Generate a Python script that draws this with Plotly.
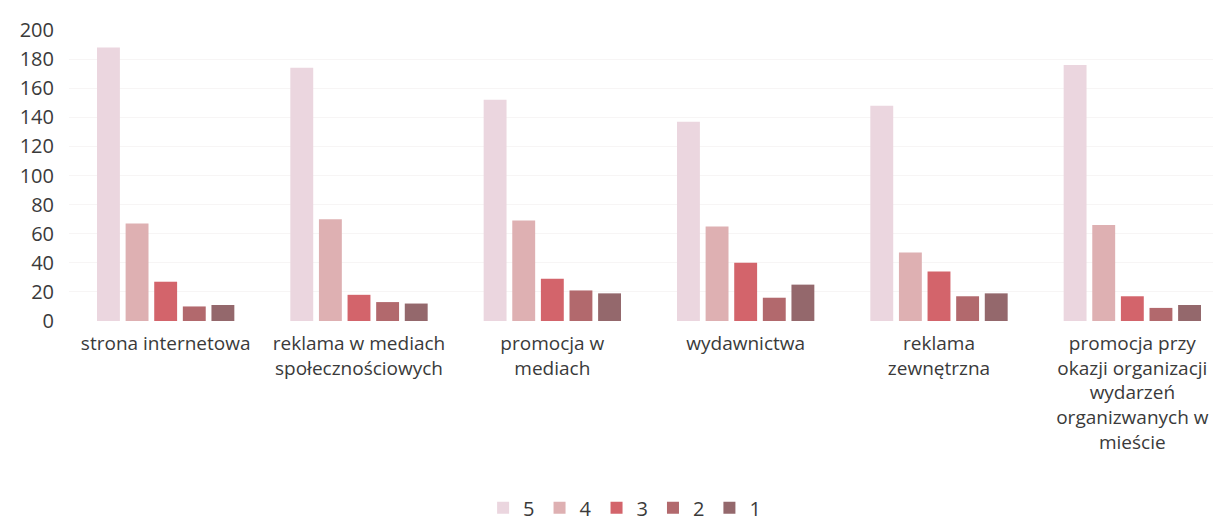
import plotly.graph_objects as go

categories = [
    "strona internetowa",
    "reklama w mediach<br>społecznościowych",
    "promocja w<br>mediach",
    "wydawnictwa",
    "reklama<br>zewnętrzna",
    "promocja przy<br>okazji organizacji<br>wydarzeń<br>organizwanych w<br>mieście",
]
series_names = ["5", "4", "3", "2", "1"]
values_5 = [188, 174, 152, 137, 148, 176]
values_4 = [67, 70, 69, 65, 47, 66]
values_3 = [27, 18, 29, 40, 34, 17]
values_2 = [10, 13, 21, 16, 17, 9]
values_1 = [11, 12, 19, 25, 19, 11]
y_ticks = [0, 20, 40, 60, 80, 100, 120, 140, 160, 180, 200]

colors = ["#EBD6DF", "#DEB0B2", "#D3646B", "#B2696D", "#94686C"]
all_values = [values_5, values_4, values_3, values_2, values_1]

FONT = "Open Sans"
fig = go.Figure()
x_idx = list(range(len(categories)))
for name, vals, col in zip(series_names, all_values, colors):
    fig.add_trace(go.Bar(x=x_idx, y=vals, name=name, marker=dict(color=col, line=dict(width=0))))

fig.update_layout(
    width=1221, height=526,
    margin=dict(l=61, r=0, t=22, b=213),
    paper_bgcolor="white", plot_bgcolor="white",
    barmode="group", bargap=0.26, bargroupgap=0.2,
    font=dict(family=FONT, size=19, color="#3a3a3a"),
    showlegend=True,
    legend=dict(orientation="h", yref="container", y=0.05, yanchor="middle",
                x=0.505, xref="container", xanchor="center",
                font=dict(size=20, color="#3a3a3a"), itemwidth=30, tracegroupgap=0),
)
fig.update_xaxes(
    tickmode="array", tickvals=x_idx, ticktext=categories,
    range=[-0.5, 5.5], showgrid=False, zeroline=False, showline=False,
    ticks="", tickangle=0, ticklabelstandoff=9, ticklabeloverflow="allow",
)
fig.update_yaxes(
    range=[0, 200], tickvals=y_ticks, showgrid=True, gridcolor="#F7F5F5",
    zeroline=False, showline=False, ticks="", ticklabelstandoff=14,
    tickfont=dict(size=20),
)
fig.write_html("out.html")
